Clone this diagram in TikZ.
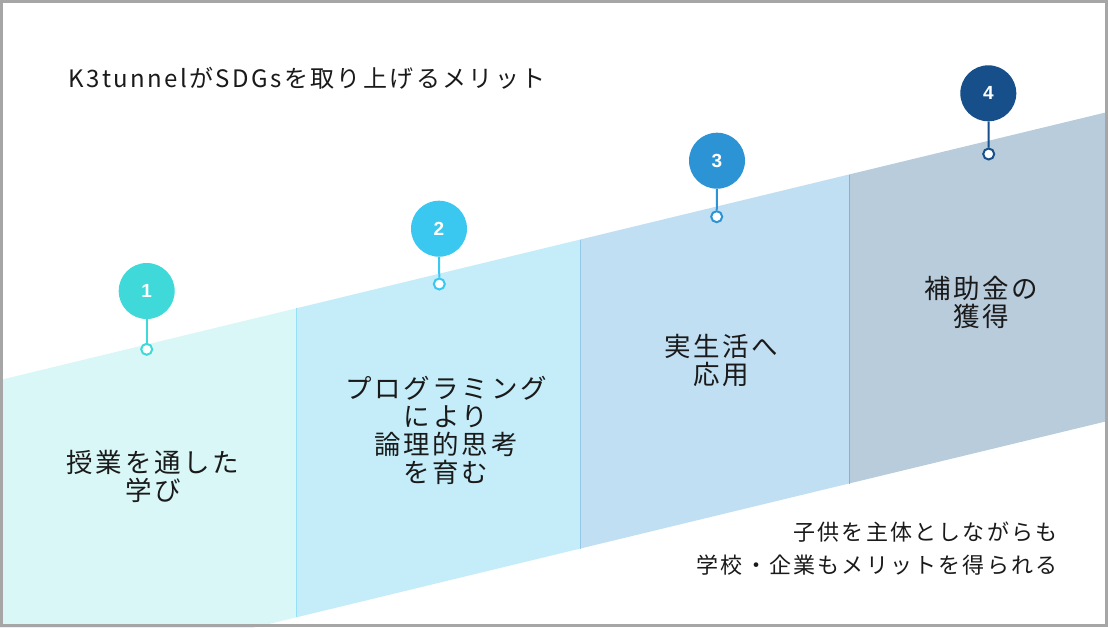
\documentclass[tikz,border=0pt]{standalone}
\usepackage{fontspec}
\setmainfont{Noto Sans CJK JP}
\setsansfont{Liberation Sans}
\newfontfamily\jpwide[LetterSpace=10]{Noto Sans CJK JP}
\usetikzlibrary{positioning}

\definecolor{frame}{HTML}{A6A6A6}
\definecolor{bandone}{HTML}{DAF7F8}
\definecolor{bandtwo}{HTML}{C4EDF9}
\definecolor{bandthree}{HTML}{C0DFF2}
\definecolor{bandfour}{HTML}{B8CCDC}
\definecolor{stepone}{HTML}{3FD9D9}
\definecolor{steptwo}{HTML}{3AC8F0}
\definecolor{stepthree}{HTML}{2C93D5}
\definecolor{stepfour}{HTML}{164F8A}
\definecolor{inkk}{HTML}{1A1A1A}

\begin{document}
\begin{tikzpicture}[x=1pt,y=-1pt,
    badge/.style={circle,minimum size=56pt,inner sep=0pt,text=white,
                  font=\sffamily\bfseries\fontsize{19}{19}\selectfont},
    pin/.style={circle,draw,fill=white,line width=2pt,minimum size=11pt,inner sep=0pt},
    stem/.style={line width=2pt},
    divider/.style={line width=0.8pt},
    caption/.style={align=center,text=inkk,font=\jpwide\fontsize{26.5}{28}\selectfont}]
	\useasboundingbox (0,0) rectangle (1108,627);
	\fill[white] (0,0) rectangle (1108,627);

	% band
	\begin{scope}
		\clip (0,0) rectangle (1108,627);
		\fill[bandone]   (0,380)     -- (296,308.4) -- (296,617.4) -- (0,689)     -- cycle;
		\fill[bandtwo]   (296,308.4) -- (580,239.6) -- (580,548.6) -- (296,617.4) -- cycle;
		\fill[bandthree] (580,239.6) -- (849,174.5) -- (849,483.5) -- (580,548.6) -- cycle;
		\fill[bandfour]  (849,174.5) -- (1108,111.9) -- (1108,420.9) -- (849,483.5) -- cycle;
		\draw[divider,draw=steptwo!35!bandtwo] (296,308.4) -- (296,617.4);
		\draw[divider,draw=stepthree!30!bandthree] (580,239.6) -- (580,548.6);
		\draw[divider,draw=stepfour!25!bandfour] (849,174.5) -- (849,483.5);
	\end{scope}

	% steps
	\node[badge,fill=stepone]   (c1) at (146.7,291)   {1};
	\node[badge,fill=steptwo]   (c2) at (439,228.7)   {2};
	\node[badge,fill=stepthree] (c3) at (717,160.7)   {3};
	\node[badge,fill=stepfour]  (c4) at (988.3,93.3)  {4};
	\node[pin,draw=stepone]   (p1) at (146.7,349.3) {};
	\node[pin,draw=steptwo]   (p2) at (439.3,284)   {};
	\node[pin,draw=stepthree] (p3) at (716.7,216.7) {};
	\node[pin,draw=stepfour]  (p4) at (988.7,154)   {};
	\draw[stem,stepone]   (c1) -- (p1);
	\draw[stem,steptwo]   (c2) -- (p2);
	\draw[stem,stepthree] (c3) -- (p3);
	\draw[stem,stepfour]  (c4) -- (p4);

	\node[caption] (l1) at (153,476.5) {授業を通した\\学び};
	\node[caption] (l2) at (446,430.5) {プログラミング\\により\\論理的思考\\を育む};
	\node[caption] (l3) at (721,360)   {実生活へ\\応用};
	\node[caption] (l4) at (981,302)   {補助金の\\獲得};

	\node[anchor=west,text=inkk,font=\jpwide\fontsize{24}{26}\selectfont]
		(title) at (65,78) {K3tunnelがSDGsを取り上げるメリット};
	\node[anchor=east,align=right,text=inkk,font=\jpwide\fontsize{22}{33}\selectfont]
		(note) at (1061,548.5) {子供を主体としながらも\\学校・企業もメリットを得られる};

	\draw[line width=3pt,frame] (1.5,1.5) rectangle (1106.5,625.5);
\end{tikzpicture}
\end{document}
